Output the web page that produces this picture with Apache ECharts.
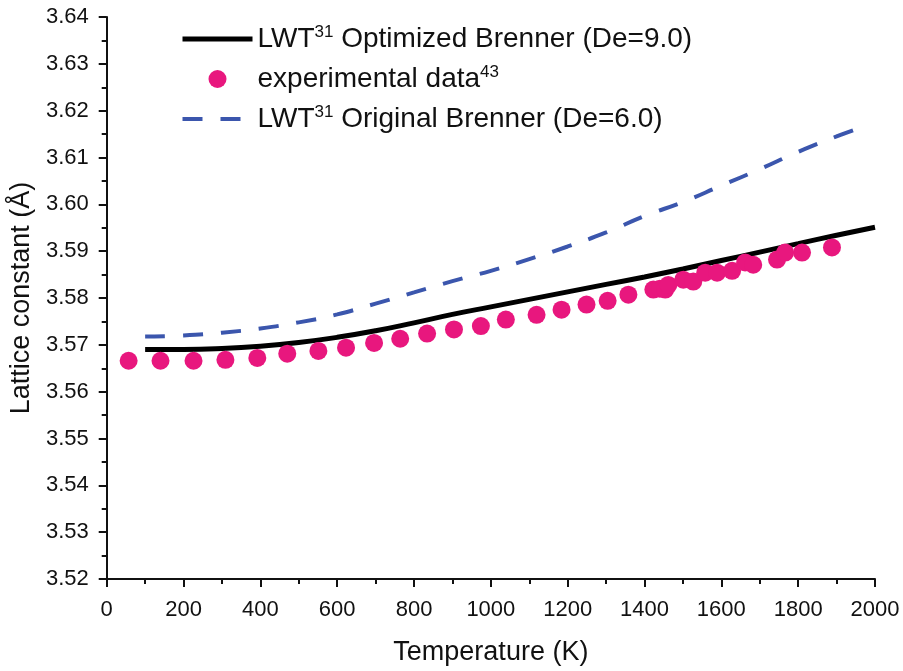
<!DOCTYPE html>
<html>
<head>
<meta charset="utf-8">
<script src="https://cdn.jsdelivr.net/npm/echarts@6/dist/echarts.min.js"></script>
<style>
  html, body { margin: 0; padding: 0; background: #fff; }
  #chart { width: 903px; height: 671px; }
</style>
</head>
<body>
<div id="chart"></div>
<script>
// experimental data (temperature K, lattice constant Å)
const expT = [57, 140, 226, 309, 392, 470, 551, 623, 696, 764, 834, 904, 974, 1039, 1119, 1184, 1249, 1304, 1358,
  1423, 1440, 1454, 1462, 1501, 1527, 1558, 1589, 1628, 1662, 1683, 1745, 1766, 1810, 1888];
const expA = [3.5666, 3.5666, 3.5666, 3.5668, 3.5672, 3.5681, 3.5687, 3.5694, 3.5704, 3.5713, 3.5724, 3.5733, 3.5740,
  3.5754, 3.5764, 3.5775, 3.5786, 3.5794, 3.5807, 3.5818, 3.5820, 3.5818, 3.5828, 3.5839, 3.5835, 3.5854, 3.5854,
  3.5858, 3.5876, 3.5871, 3.5882, 3.5897, 3.5897, 3.5908];

// LWT optimized Brenner (De=9.0)
const optT = [100, 200, 300, 400, 500, 600, 700, 800, 900, 1000, 1100, 1200, 1300, 1400, 1500, 1600, 1700, 1800, 1900, 2000];
const optA = [3.5690, 3.5690, 3.5692, 3.5697, 3.5705, 3.5716, 3.5730, 3.5747, 3.5765, 3.5781, 3.5797, 3.5813, 3.5829,
  3.5845, 3.5862, 3.5880, 3.5898, 3.5916, 3.5934, 3.5951];

// LWT original Brenner (De=6.0)
const origT = [100, 200, 300, 400, 500, 600, 700, 800, 900, 1000, 1100, 1200, 1300, 1400, 1500, 1600, 1700, 1800, 1900, 1950];
const origA = [3.5718, 3.5720, 3.5726, 3.5735, 3.5748, 3.5765, 3.5788, 3.5812, 3.5836, 3.5858, 3.5883, 3.5910, 3.5940,
  3.5975, 3.6005, 3.6040, 3.6075, 3.6112, 3.6145, 3.6160];

const legendLabels = {
  opt: 'LWT{sup|31} Optimized Brenner (De=9.0)',
  exp: 'experimental data{sup|43}',
  orig: 'LWT{sup|31} Original Brenner (De=6.0)'
};

const zip = (xs, ys) => xs.map((x, i) => [x, ys[i]]);
const font = 'Arial, "Liberation Sans", sans-serif';
const ink = '#111';
const pink = '#e8177e';
const blue = '#3b56ad';
const dash = [20, 18];

const chart = echarts.init(document.getElementById('chart'));

chart.setOption({
  animation: false,
  grid: { left: 105, right: 28, top: 17, bottom: 92 },
  legend: {
    orient: 'vertical',
    left: 175,
    top: 19,
    itemWidth: 70,
    itemHeight: 18,
    itemGap: 10,
    data: [
      { name: 'opt', itemStyle: { opacity: 0 }, lineStyle: { width: 5, color: '#000' } },
      { name: 'exp' },
      { name: 'orig', itemStyle: { opacity: 0 }, lineStyle: { width: 4, color: blue, type: dash } }
    ],
    formatter: (name) => legendLabels[name],
    textStyle: {
      fontFamily: font,
      fontSize: 28,
      lineHeight: 30,
      color: ink,
      rich: {
        sup: { fontSize: 17, lineHeight: 14, verticalAlign: 'top', fontFamily: font, color: ink }
      }
    }
  },
  xAxis: {
    type: 'value',
    min: 0,
    max: 2000,
    interval: 200,
    name: 'Temperature (K)',
    nameLocation: 'middle',
    nameGap: 60,
    nameTextStyle: { fontFamily: font, fontSize: 27, color: ink },
    axisLine: { show: true, lineStyle: { color: ink, width: 2 } },
    axisTick: { show: true, inside: false, length: 8, lineStyle: { color: ink, width: 2 } },
    minorTick: { show: true, splitNumber: 2, length: 5, lineStyle: { color: ink, width: 2 } },
    axisLabel: { fontFamily: font, fontSize: 22, color: ink, margin: 20, formatter: (v) => String(v) },
    splitLine: { show: false }
  },
  yAxis: {
    type: 'value',
    min: 3.52,
    max: 3.64,
    interval: 0.01,
    name: 'Lattice constant (Å)',
    nameLocation: 'middle',
    nameGap: 68,
    nameTextStyle: { fontFamily: font, fontSize: 27, color: ink },
    axisLine: { show: true, lineStyle: { color: ink, width: 2 } },
    axisTick: { show: true, inside: false, length: 8, lineStyle: { color: ink, width: 2 } },
    minorTick: { show: true, splitNumber: 2, length: 5, lineStyle: { color: ink, width: 2 } },
    axisLabel: {
      fontFamily: font, fontSize: 22, color: ink, margin: 18,
      formatter: (v) => v.toFixed(2)
    },
    splitLine: { show: false }
  },
  series: [
    {
      name: 'opt',
      type: 'line',
      data: zip(optT, optA),
      smooth: true,
      showSymbol: false,
      symbol: 'none',
      lineStyle: { color: '#000', width: 5 },
      itemStyle: { color: '#000' },
      z: 3
    },
    {
      name: 'exp',
      type: 'scatter',
      data: zip(expT, expA),
      symbol: 'circle',
      symbolSize: 18,
      itemStyle: { color: pink, opacity: 1 },
      z: 4
    },
    {
      name: 'orig',
      type: 'line',
      data: zip(origT, origA),
      smooth: true,
      showSymbol: false,
      symbol: 'none',
      lineStyle: { color: blue, width: 4, type: dash },
      itemStyle: { color: blue },
      z: 2
    }
  ]
});
</script>
</body>
</html>
